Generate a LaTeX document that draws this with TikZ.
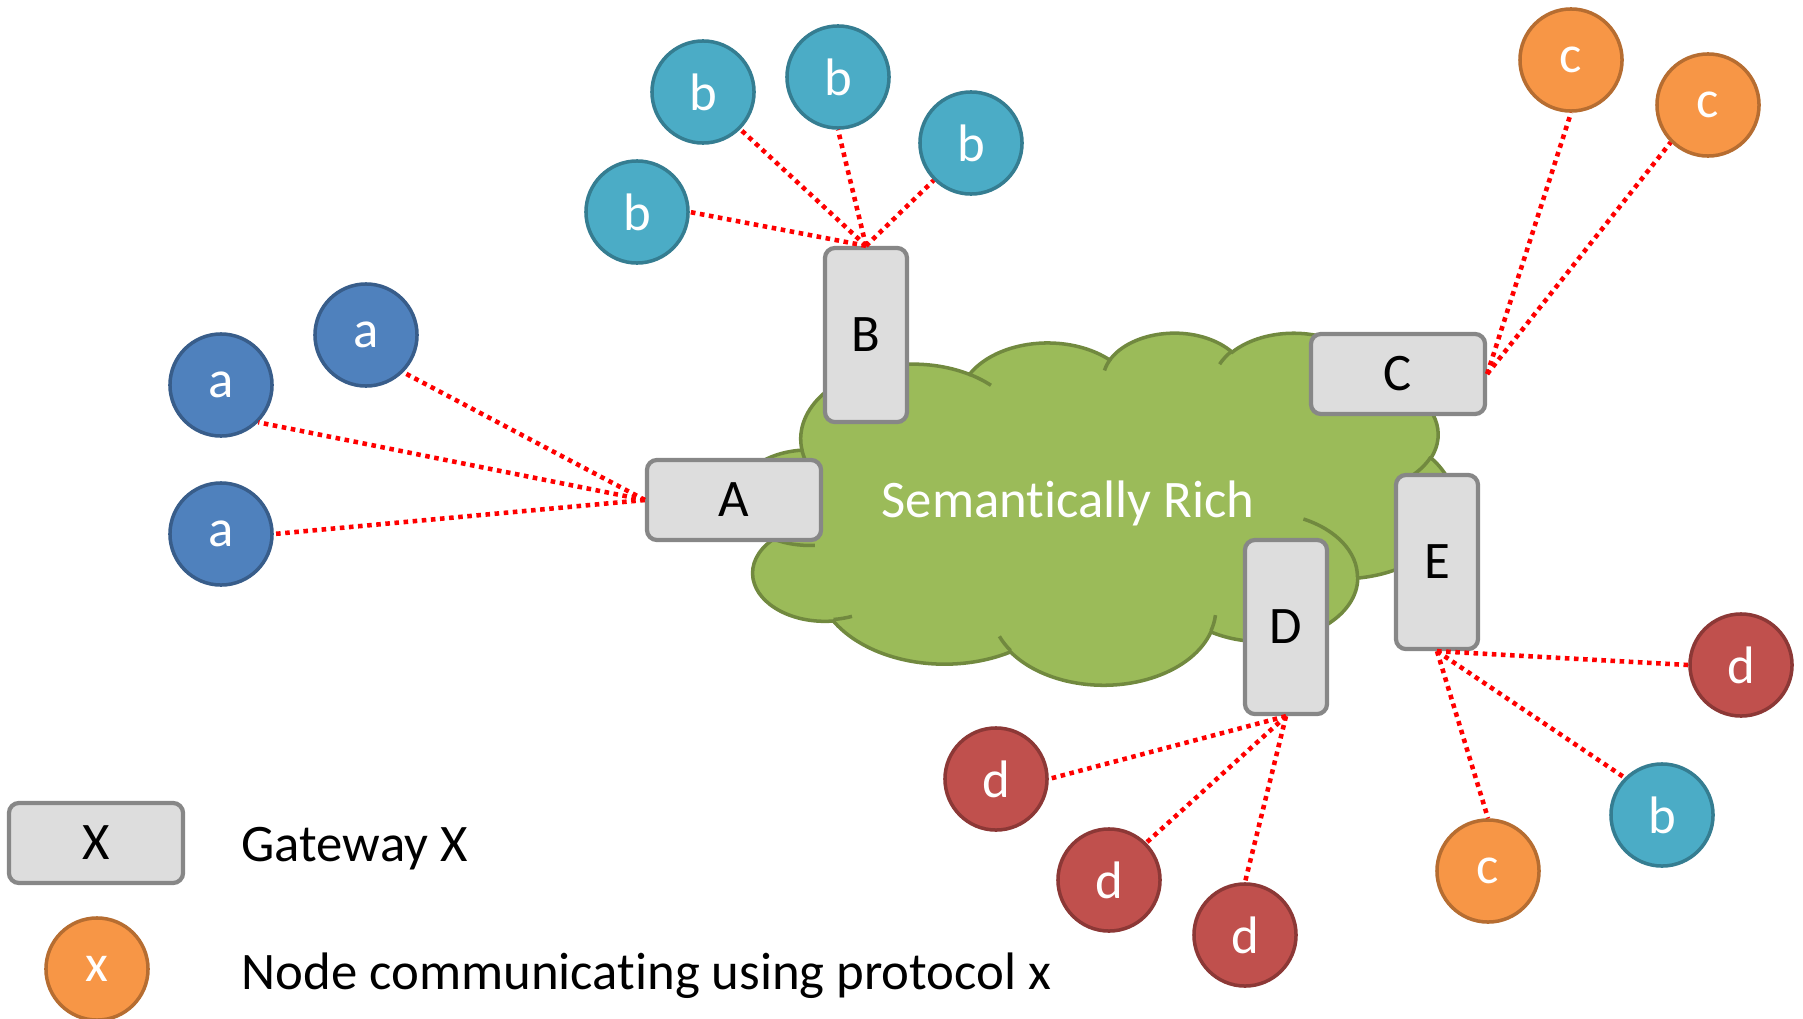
\documentclass[tikz,border=0pt]{standalone}
\usepackage{fontspec}
\setmainfont[Ligatures=NoCommon]{Carlito}
\definecolor{fillA}{HTML}{4F81BD}
\definecolor{lineA}{HTML}{385D8A}
\definecolor{fillB}{HTML}{4BACC6}
\definecolor{lineB}{HTML}{357D91}
\definecolor{fillC}{HTML}{F79646}
\definecolor{lineC}{HTML}{B66D31}
\definecolor{fillD}{HTML}{C0504D}
\definecolor{lineD}{HTML}{8C3836}
\definecolor{cloudFill}{HTML}{9BBB59}
\definecolor{cloudLine}{HTML}{71893F}
\definecolor{gateFill}{HTML}{DDDDDD}
\definecolor{gateLine}{HTML}{878787}
%% Angle on an ellipse (radii #2, #3) seen from its centre, turned into the arc parameter.
\makeatletter
\pgfmathdeclarefunction{ellAngle}{3}{%%
  \begingroup
  \pgfmathparse{atan2((#2)*sin(#1),(#3)*cos(#1))}%%
  \pgfmathparse{\pgfmathresult+360*round(((#1)-\pgfmathresult)/360)}%%
  \pgfmath@smuggleone\pgfmathresult
  \endgroup}
\makeatother
\newcommand{\cloudArc}[4]{%%
  arc[x radius=#1,y radius=#2,start angle={ellAngle(#3,#1,#2)},end angle={ellAngle(#3+#4,#1,#2)}]
}
\newcommand{\protocolNode}[5]{%%
  \node[circleStyle,#5] (#1) at (#2,#3) {#4};
}
\newcommand{\gatewayNode}[4]{%%
  \node[gatewayStyle,#4] (gw#1) at (#2,#3) {#1};
}

\begin{document}
\begin{tikzpicture}[%%
  x=0.01cm,y=-0.01cm,%%
  textStyle/.style={font=\fontsize{15}{18}\selectfont},%%
  circleStyle/.style={textStyle,circle,draw,line width=1pt,minimum size=1.02cm,inner sep=0pt,text=white},%%
  protoA/.style={fill=fillA,draw=lineA},%%
  protoB/.style={fill=fillB,draw=lineB},%%
  protoC/.style={fill=fillC,draw=lineC},%%
  protoD/.style={fill=fillD,draw=lineD},%%
  gatewayStyle/.style={textStyle,draw=gateLine,fill=gateFill,line width=1.2pt,rounded corners=0.1cm,inner sep=0pt},%%
  wide/.style={minimum width=1.74cm,minimum height=0.8cm},%%
  tall/.style={minimum width=0.82cm,minimum height=1.74cm},%%
  cloudStyle/.style={fill=cloudFill,draw=cloudLine,line width=1pt},%%
  linkStyle/.style={red,line width=1.3pt,dash pattern=on 1.3pt off 1.3pt}%%
]
%%
\useasboundingbox (0,0) rectangle (1803,1018);
%%
%% The cloud, drawn in a frame of 432 x 432 units.
\pgfmathsetmacro{\cloudLeft}{737}
\pgfmathsetmacro{\cloudTop}{332}
\pgfmathsetmacro{\cloudWidth}{717}
\pgfmathsetmacro{\cloudHeight}{352}
\begin{scope}[shift={(\cloudLeft,\cloudTop)},x=\cloudWidth/432*0.01cm,y=-\cloudHeight/432*0.01cm]
  \path[cloudStyle] (39.00,143.70)
    \cloudArc{67.53}{91.90}{-190.48748}{123.78053}
    \cloudArc{53.33}{72.67}{-144.10238}{89.94523}
    \cloudArc{43.65}{59.45}{-145.80792}{99.72302}
    \cloudArc{48.57}{65.95}{-130.98607}{117.24173}
    \cloudArc{53.33}{72.73}{-78.70888}{109.02692}
    \cloudArc{67.75}{92.20}{-46.26725}{130.269}
    \cloudArc{57.85}{78.67}{0.62502}{114.03333}
    \cloudArc{67.52}{92.15}{22.4516}{115.17255}
    \cloudArc{77.20}{105.43}{66.24263}{75.71102}
    \cloudArc{43.60}{59.18}{-274.94208}{146.73557}
    \cloudArc{43.45}{59.45}{-246.8285}{152.51885}
    -- cycle;
  %% the inner strokes
  \draw[cloudStyle,fill=none]
    (46.93,261.77) \cloudArc{43.45}{59.45}{86.742}{26.4295}
    (69.28,348.99) \cloudArc{43.60}{59.18}{73.61047}{11.44747}
    (164.78,390.90) \cloudArc{67.52}{92.15}{137.62415}{14.0811}
    (288.27,347.51) \cloudArc{67.52}{92.15}{6.45327}{15.99835}
    (341.29,229.54) \cloudArc{57.85}{78.67}{-70.29235}{70.91737}
    (417.98,153.54) \cloudArc{53.33}{72.73}{30.31803}{27.7515}
    (383.24,54.26) \cloudArc{48.57}{65.95}{-13.74433}{14.8589}
    (290.78,39.52) \cloudArc{48.57}{65.95}{-149.18145}{18.19537}
    (221.41,47.20) \cloudArc{43.65}{59.45}{-163.49427}{17.68635}
    (140.00,51.92) \cloudArc{67.53}{91.90}{-66.70695}{12.31935}
    (41.27,157.89) \cloudArc{67.53}{91.90}{157.65435}{11.85817};
\end{scope}
\node[textStyle,text=white] (rich) at (1068,503) {Semantically Rich};
%%
%% The gateways.
\gatewayNode{A}{734}{500}{wide}
\gatewayNode{B}{866}{335}{tall}
\gatewayNode{C}{1398}{374}{wide}
\gatewayNode{D}{1286}{627}{tall}
\gatewayNode{E}{1437}{562}{tall}
%%
%% The nodes.
\protocolNode{a1}{366}{335}{a}{protoA}
\protocolNode{a2}{221}{385}{a}{protoA}
\protocolNode{a3}{221}{534}{a}{protoA}
\protocolNode{b1}{703}{92}{b}{protoB}
\protocolNode{b2}{838}{77}{b}{protoB}
\protocolNode{b3}{971}{143}{b}{protoB}
\protocolNode{b4}{637}{212}{b}{protoB}
\protocolNode{c1}{1571}{60}{c}{protoC}
\protocolNode{c2}{1708}{105}{c}{protoC}
\protocolNode{d1}{1741}{665}{d}{protoD}
\protocolNode{b5}{1662}{815}{b}{protoB}
\protocolNode{c3}{1488}{871}{c}{protoC}
\protocolNode{d2}{996}{779}{d}{protoD}
\protocolNode{d3}{1109}{880}{d}{protoD}
\protocolNode{d4}{1245}{935}{d}{protoD}
%%
%% The links.
\foreach \n/\p in {a1/south east,a2/south east,a3/east}
  {\draw[linkStyle] (gwA.west) -- (\n.\p);}
\foreach \n/\p in {b1/south east,b2/south,b3/south west,b4/east}
  {\draw[linkStyle] (gwB.north) -- (\n.\p);}
\foreach \n/\p in {c1/south,c2/south west}
  {\draw[linkStyle] (gwC.east) -- (\n.\p);}
\foreach \n/\p in {d2/east,d3/north east,d4/north}
  {\draw[linkStyle] (gwD.south) -- (\n.\p);}
\foreach \n/\p in {d1/west,b5/north west,c3/north}
  {\draw[linkStyle] (gwE.south) -- (\n.\p);}
%%
%% The legend.
\gatewayNode{X}{96}{843}{wide}
\protocolNode{x}{97}{969}{x}{protoC}
\node[textStyle,anchor=west,inner sep=0pt] (gwText) at (241,849) {Gateway X};
\node[textStyle,anchor=west,inner sep=0pt] (nodeText) at (241,976) {Node communicating using protocol x};
\end{tikzpicture}
\end{document}
